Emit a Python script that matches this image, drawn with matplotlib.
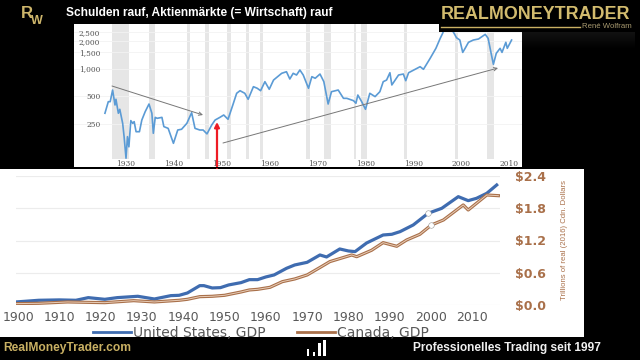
import numpy as np
import matplotlib
matplotlib.use("Agg")
import matplotlib.pyplot as plt
from matplotlib.patches import Rectangle, FancyArrowPatch
from matplotlib.lines import Line2D

# ---- data ----
sp_years = [1925.6,1926.3,1926.7,1927.2,1927.7,1927.9,1928.4,1928.7,1929.3,1929.6,1930.0,1930.3,1930.6,1931.0,1931.4,1931.7,
            1932.1,1932.8,1933.3,1934.0,1934.8,1935.4,1935.7,1936.1,1936.5,1937.5,1937.9,1938.8,1939.9,1940.8,1941.6,
            1942.7,1943.7,1944.4,1945.4,1946.1,1946.9,1947.9,1948.6,1949.6,1950.4,1951.3,1952.3,1953.1,1953.8,1954.8,
            1955.5,1956.6,1957.4,1958.1,1959.0,1959.9,1960.8,1962.5,1963.5,1964.2,1964.9,1965.6,1966.3,1967.0,1968.1,
            1968.8,1969.5,1970.5,1971.3,1972.2,1972.9,1974.3,1975.4,1976.1,1977.5,1978.0,1978.4,1979.2,1980.0,1980.9,
            1982.0,1983.0,1983.7,1984.4,1985.1,1985.5,1986.9,1987.9,1988.4,1989.0,1991.4,1992.1,1993.5,1994.7,1995.6,
            1996.1,1996.6,1997.5,1998.5,1999.0,1999.7,2000.3,2000.8,2001.5,2002.5,2003.6,2005.0,2005.6,2006.3,2006.7,
            2007.3,2008.1,2008.5,2009.3,2009.6,2010.5]
sp_values = [327,437,437,585,402,464,327,361,254,182,106,182,141,272,254,265,
             206,206,276,340,412,327,198,295,288,295,234,224,154,215,219,
             254,332,224,215,215,195,244,276,295,313,281,402,539,575,539,
             464,636,611,575,721,596,751,889,925,771,889,852,966,852,611,
             817,785,873,721,412,561,585,475,475,448,420,516,437,361,539,
             496,561,721,751,902,664,852,873,739,902,1049,983,1294,1662,2135,
             2415,2850,2950,2415,2167,2045,1501,1662,1932,2045,2100,2357,2135,1405,1114,
             1465,1662,1501,1932,1662,2045]
recession_start = [1927.1,1934.9,1942.7,1946.5,1951.1,1955.0,1957.9,1967.6,1971.3,1977.5,1979.1,1988.0,1998.7,2005.4]
recession_end   = [1930.6,1936.0,1943.4,1947.3,1951.9,1955.7,1958.6,1968.4,1972.8,1978.0,1980.4,1988.7,1999.4,2006.8]
sp_yticks = [250,500,1000,1500,2000,2500]
sp_yticklabels = ["250","500","1,000","1,500","2,000","2,500"]
sp_xticks = [1930,1940,1950,1960,1970,1980,1990,2000,2010]

us_years = [1899.5,1905,1910,1914,1917,1921,1924,1929,1933,1937,1939,1941,1944,1945,1947,1949,1951,1954,1956,1958,
            1960,1962,1965,1967,1970,1973.1,1974.7,1977.9,1980,1981.6,1984.4,1988.4,1990.5,1992.5,1995.7,1999.3,
            2002.6,2006.6,2009,2011,2013.5,2015.9]
us_gdp = [.062,.093,.10,.093,.142,.111,.142,.167,.117,.179,.185,.228,.364,.364,.321,.327,.377,.42,.475,.475,
          .525,.562,.685,.747,.796,.932,.895,1.043,1.006,.994,1.154,1.302,1.315,1.364,1.488,1.704,
          1.796,2.012,1.938,1.981,2.074,2.228]
ca_years = [1899.5,1905,1912,1916,1921,1928,1933,1939,1941,1944,1947,1950,1954,1956,1958,1961,1964,1967,1970,1973.1,
            1975.5,1980.8,1982,1985.6,1988.4,1991.7,1994.1,1997.3,2000.1,2003,2007.8,2009,2013.5,2016.3]
ca_gdp = [.031,.037,.062,.056,.049,.086,.062,.093,.111,.16,.167,.185,.247,.284,.296,.333,.438,.488,.562,.70,
          .809,.932,.90,1.019,1.16,1.093,1.21,1.315,1.488,1.58,1.858,1.765,2.043,2.03]
marker_years = [1999.3,2000.1]
marker_values = [1.704,1.488]
gdp_xticks = list(range(1900,2020,10))
gdp_yticks = [0,0.6,1.2,1.8,2.4]
gdp_yticklabels = ["$0.0","$0.6","$1.2","$1.8","$2.4"]

W,H = 640,360
plt.rcParams['font.family'] = ['Liberation Sans','DejaVu Sans']
fig = plt.figure(figsize=(6.4,3.6),dpi=100,facecolor='black')

def axpx(x0,y0,x1,y1,**k):
    return fig.add_axes([x0/W,1-y1/H,(x1-x0)/W,(y1-y0)/H],**k)

# backdrop overlay in pixel coordinates
bg = axpx(0,0,W,H,zorder=0); bg.set_xlim(0,W); bg.set_ylim(H,0); bg.axis('off')
bg.add_patch(Rectangle((74,24),447.5,143,fc='white',ec='none'))
bg.add_patch(Rectangle((0,168.5),583.5,168,fc='white',ec='none'))

# --- top chart ---
ax = axpx(74,24,521.5,159,zorder=1)
ax.patch.set_alpha(0)
ax.set_yscale('log')
ax.set_xlim(1919.14,2012.57); ax.set_ylim(104,3056)
for s,e in zip(recession_start,recession_end):
    ax.axvspan(s,e,color='#e6e6e6',lw=0,zorder=1)
ax.plot(sp_years,sp_values,color='#5b9bd5',lw=1.2,zorder=3)
ax.set_yticks(sp_yticks); ax.set_yticklabels(sp_yticklabels)
ax.minorticks_off()
ax.set_xticks(sp_xticks)
ax.grid(axis='y',color='#f3f3f3',lw=0.6,zorder=0)
ax.tick_params(axis='both',length=0,colors='#555555',labelsize=5.4)
ax.tick_params(axis='y',pad=-19)
ax.tick_params(axis='x',pad=1)
for l in ax.get_xticklabels()+ax.get_yticklabels():
    l.set_family(['DejaVu Serif'])
for s in ax.spines.values(): s.set_visible(False)

# --- bottom chart ---
a2 = axpx(16,175.7,500,305.3,zorder=1)
a2.patch.set_alpha(0)
a2.set_xlim(1899.5,2016.7); a2.set_ylim(0,2.4)
a2.grid(axis='y',color='#ececec',lw=0.8,zorder=0); a2.set_axisbelow(True)
a2.plot(us_years,us_gdp,color='#3f6cb0',lw=2.3,zorder=3,solid_joinstyle='round')
a2.plot(ca_years,ca_gdp,color='#a9704a',lw=2.3,zorder=3,solid_joinstyle='round')
a2.plot(ca_years,ca_gdp,color='#e8cdb8',lw=0.7,zorder=4,solid_joinstyle='round')
a2.plot(marker_years,marker_values,ls='none',marker='o',ms=4,mfc='white',mec='#999999',mew=0.4,zorder=5)
a2.set_xticks(gdp_xticks)
a2.set_xticklabels([str(v) for v in gdp_xticks],family=['DejaVu Sans'],color='#595959',fontsize=9)
a2.yaxis.tick_right()
a2.set_yticks(gdp_yticks); a2.set_yticklabels(gdp_yticklabels,family=['DejaVu Sans'],color='#a9704a',fontsize=9,fontweight='bold')
a2.tick_params(axis='both',length=0)
a2.tick_params(axis='x',pad=4)
a2.tick_params(axis='y',pad=11)
a2.yaxis.set_label_position('right')
a2.set_ylabel('Trillions of real (2016) Cdn. Dollars',color='#a9704a',fontsize=5.6,
              family=['Liberation Sans'],rotation=90,va='center',ha='center')
a2.yaxis.set_label_coords((564-16)/484,0.5)
for s in a2.spines.values(): s.set_visible(False)
handles = [Line2D([],[],color='#3f6cb0',lw=2),Line2D([],[],color='#a9704a',lw=2)]
leg = fig.legend(handles,['United States, GDP','Canada, GDP'],ncol=2,frameon=False,
                 loc='center',bbox_to_anchor=(261/W,1-333/H),handlelength=2.7,
                 handletextpad=0.15,columnspacing=2.3,labelcolor='#595959',
                 prop={'family':['DejaVu Sans'],'size':10})

# --- overlay decorations ---
ov = axpx(0,0,W,H,zorder=5); ov.set_xlim(0,W); ov.set_ylim(H,0); ov.axis('off'); ov.patch.set_alpha(0)
ov.add_patch(FancyArrowPatch((112,86),(203,115),arrowstyle='->',mutation_scale=6,color='#777777',lw=0.7,shrinkA=0,shrinkB=0))
ov.add_patch(FancyArrowPatch((223,143),(498,68),arrowstyle='->',mutation_scale=6,color='#777777',lw=0.7,shrinkA=0,shrinkB=0))
ov.add_patch(FancyArrowPatch((217,168),(217,122),arrowstyle='-|>',mutation_scale=7,color='#ee1c25',lw=1.6,shrinkA=0,shrinkB=0))
# footer
ov.add_patch(Rectangle((0,336.5),W,24,fc='black',ec='none'))
ov.add_patch(Rectangle((0,167),521.5,1.2,fc='black',ec='none'))
grad = np.linspace(1,0,20)[:,None]*np.ones((20,40))
ov.imshow(grad,extent=(521.5,634,50,32),cmap='gray',vmin=0,vmax=14,aspect='auto',zorder=0.5)
ov.set_xlim(0,W); ov.set_ylim(H,0)
ov.add_patch(Rectangle((439,5),195,27,fc='black',ec='none'))
gold='#c9b063'
ov.text(536,14.5,'REALMONEYTRADER',color='#d2bb6e',fontsize=12.9,fontweight='bold',ha='center',va='center')
ov.plot([441,580],[26.5,26.5],color=gold,lw=1)
ov.text(632,26.8,'René Wolfram',color='#a89a70',fontsize=5.6,ha='right',va='center')
ov.text(66,13,'Schulden rauf, Aktienmärkte (= Wirtschaft) rauf',color='white',fontsize=8.6,fontweight='bold',ha='left',va='center')
ov.text(3,348,'RealMoneyTrader.com',color=gold,fontsize=8.65,fontweight='bold',ha='left',va='center')
ov.text(601,348,'Professionelles Trading seit 1997',color='#f0f0f0',fontsize=8.6,fontweight='bold',ha='right',va='center')
ov.text(26.5,13,'R',color='#cdb56b',fontsize=12,fontweight='bold',ha='center',va='center',family=['Liberation Sans'])
ov.text(36.5,20.5,'W',color='#cdb56b',fontsize=9,fontweight='bold',ha='center',va='center',family=['Liberation Sans'])
for x0,x1,y0 in [(306.7,309,349),(312.7,315,352),(317.7,320.7,343),(322.7,326,340)]:
    ov.add_patch(Rectangle((x0,y0),x1-x0,356-y0,fc='white',ec='none'))

fig.savefig('out.png',dpi=100,facecolor='black')
